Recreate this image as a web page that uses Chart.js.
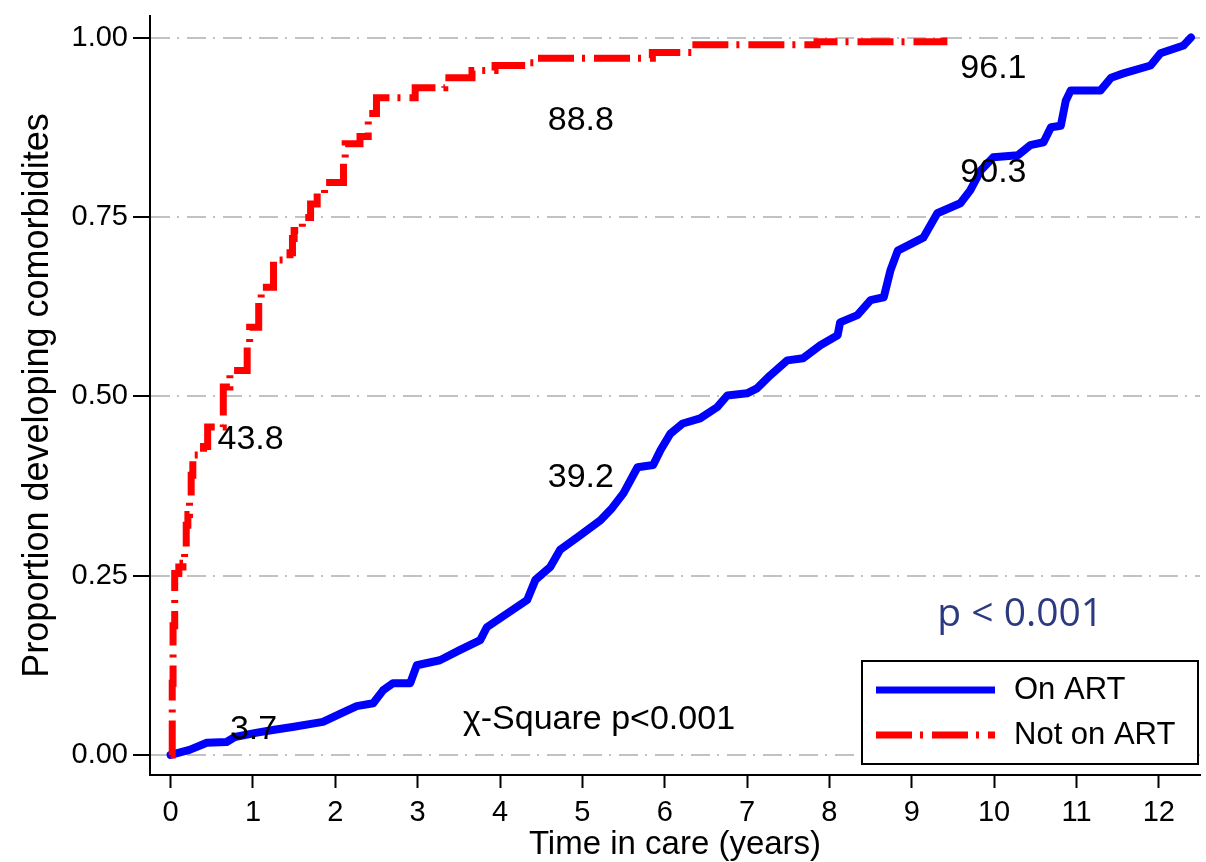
<!DOCTYPE html>
<html>
<head>
<meta charset="utf-8">
<script src="https://cdn.jsdelivr.net/npm/chart.js@4.4.1/dist/chart.umd.min.js"></script>
<style>
  body { margin: 0; background: #fff; }
  canvas { display: block; }
</style>
</head>
<body>
<canvas id="chart" width="1206" height="862"></canvas>
<script>
// Cumulative proportion developing comorbidities
var onArtYears = [0, 0.23, 0.44, 0.68, 0.78, 1.05, 1.26, 1.48, 1.85, 2.05, 2.26, 2.46, 2.58, 2.70, 2.91,
    2.99, 3.27, 3.51, 3.76, 3.84, 4.06, 4.33, 4.43, 4.61, 4.73, 4.97, 5.22, 5.36, 5.50, 5.67, 5.86,
    5.95, 6.07, 6.22, 6.43, 6.64, 6.76, 7.00, 7.12, 7.28, 7.49, 7.68, 7.89, 8.10, 8.13, 8.34, 8.50,
    8.66, 8.74, 8.83, 9.14, 9.31, 9.59, 9.71, 9.84, 9.99, 10.29, 10.44, 10.60, 10.69, 10.81, 10.87,
    10.93, 11.29, 11.42, 11.57, 11.90, 12.02, 12.30, 12.39];
var onArtProp = [0, 0.007, 0.017, 0.018, 0.025, 0.031, 0.035, 0.039, 0.046, 0.057, 0.068, 0.072, 0.09, 0.10, 0.10,
    0.125, 0.132, 0.146, 0.16, 0.178, 0.195, 0.216, 0.244, 0.262, 0.286, 0.306, 0.327, 0.344, 0.365, 0.401, 0.404,
    0.425, 0.448, 0.462, 0.469, 0.485, 0.501, 0.504, 0.511, 0.529, 0.55, 0.553, 0.571, 0.585, 0.603, 0.613, 0.634,
    0.638, 0.675, 0.703, 0.721, 0.755, 0.769, 0.787, 0.815, 0.833, 0.836, 0.85, 0.854, 0.875, 0.877, 0.912,
    0.926, 0.926, 0.944, 0.95, 0.961, 0.978, 0.989, 1.0];

var notOnArtYears = [0, 0.02, 0.03, 0.05, 0.10, 0.15, 0.17, 0.19, 0.21, 0.23, 0.25, 0.27, 0.40, 0.45,
    0.64, 0.72, 0.93, 0.96, 1.07, 1.10, 1.25, 1.45, 1.48, 1.50, 1.60, 1.70, 1.78, 1.87, 2.10, 2.12,
    2.30, 2.40, 2.50, 2.97, 3.33, 3.66, 3.94, 4.33, 4.46, 5.85, 6.33, 7.85, 9.39];
var notOnArtProp = [0, 0.10, 0.18, 0.253, 0.262, 0.267, 0.29, 0.32, 0.335, 0.36, 0.39, 0.418, 0.43, 0.457,
    0.513, 0.536, 0.568, 0.596, 0.63, 0.652, 0.69, 0.70, 0.72, 0.731, 0.749, 0.768, 0.783, 0.798, 0.824, 0.852,
    0.862, 0.894, 0.916, 0.93, 0.944, 0.954, 0.961, 0.965, 0.971, 0.979, 0.99, 0.994, 1.0];

var seriesNames = ["On ART", "Not on ART"];
var xTicks = [0, 1, 2, 3, 4, 5, 6, 7, 8, 9, 10, 11, 12];
var yTicks = [0, 0.25, 0.5, 0.75, 1];

// percentage labels written on the plot, with their place in data units
var noteTexts = ["43.8", "88.8", "96.1", "90.3", "39.2", "3.7", "\u03c7-Square p<0.001"];
var noteX = [0.57, 4.58, 9.59, 9.59, 4.58, 0.72, 3.55];
var noteY = [0.439, 0.884, 0.957, 0.812, 0.386, 0.035, 0.049];
var pValueText = "p < 0.001";

function toPoints(xs, ys) {
    return xs.map(function (x, i) { return { x: x, y: ys[i] }; });
}

var SANS = "'Liberation Sans', Arial, sans-serif";

var overlay = {
    id: "overlay",
    afterDraw: function (chart) {
        var ctx = chart.ctx;
        var xs = chart.scales.x, ys = chart.scales.y;
        var area = chart.chartArea;
        ctx.save();
        ctx.textAlign = "left";
        ctx.textBaseline = "middle";
        ctx.fillStyle = "#000";
        ctx.font = "34px " + SANS;
        noteTexts.forEach(function (t, i) {
            ctx.fillText(t, xs.getPixelForValue(noteX[i]), ys.getPixelForValue(noteY[i]));
        });

        ctx.font = "39px 'Open Sans', 'Noto Sans', sans-serif";
        ctx.fillStyle = "#2b3a80";
        ctx.fillText(pValueText, xs.getPixelForValue(9.31), ys.getPixelForValue(0.195));

        // legend box in the lower right corner
        var bw = 336, bh = 103;
        var bx = area.right - bw - 2, by = area.bottom - 11 - bh;
        ctx.fillStyle = "#fff";
        ctx.fillRect(bx, by, bw, bh);
        ctx.lineWidth = 2;
        ctx.strokeStyle = "#000";
        ctx.strokeRect(bx, by, bw, bh);
        ctx.font = "31px " + SANS;
        chart.data.datasets.forEach(function (ds, i) {
            var ly = by + 29 + i * 45;
            ctx.beginPath();
            ctx.lineWidth = 7;
            ctx.strokeStyle = ds.borderColor;
            ctx.setLineDash(ds.borderDash || []);
            ctx.lineCap = "butt";
            ctx.moveTo(bx + 14, ly);
            ctx.lineTo(bx + 133, ly);
            ctx.stroke();
            ctx.setLineDash([]);
            ctx.fillStyle = "#000";
            ctx.fillText(ds.label, bx + 152, ly);
        });
        ctx.restore();
    }
};

new Chart(document.getElementById("chart"), {
    type: "line",
    data: {
        datasets: [
            {
                label: seriesNames[0],
                data: toPoints(onArtYears, onArtProp),
                borderColor: "#0000ff",
                borderWidth: 8,
                borderJoinStyle: "round",
                borderCapStyle: "round",
                pointRadius: 0,
                tension: 0,
                order: 1
            },
            {
                label: seriesNames[1],
                data: toPoints(notOnArtYears, notOnArtProp),
                borderColor: "#ff0000",
                borderWidth: 7,
                borderDash: [36, 8, 3, 9],
                stepped: "before",
                pointRadius: 0,
                order: 0
            }
        ]
    },
    options: {
        responsive: false,
        animation: false,
        devicePixelRatio: 1,
        layout: { padding: { top: 16, right: 6, left: 0, bottom: 0 } },
        plugins: {
            legend: { display: false },
            tooltip: { enabled: false }
        },
        scales: {
            x: {
                type: "linear",
                min: -0.25,
                max: 12.5,
                afterBuildTicks: function (scale) {
                    scale.ticks = xTicks.map(function (v) { return { value: v }; });
                },
                afterFit: function (scale) { scale.height = 87; },
                grid: {
                    drawOnChartArea: false,
                    tickLength: 13,
                    tickColor: "#000",
                    tickWidth: 2
                },
                border: { color: "#000", width: 2 },
                ticks: {
                    padding: 8,
                    color: "#000",
                    font: { family: SANS, size: 29 },
                    maxRotation: 0,
                    callback: function (value) { return String(value); }
                },
                title: {
                    display: true,
                    text: "Time in care (years)",
                    color: "#000",
                    font: { family: SANS, size: 33, lineHeight: 1 },
                    padding: { top: 0, bottom: 1 }
                }
            },
            y: {
                min: -0.028,
                max: 1.03,
                afterBuildTicks: function (scale) {
                    scale.ticks = yTicks.map(function (v) { return { value: v }; });
                },
                afterFit: function (scale) { scale.width = 150; },
                grid: {
                    color: "#c2c2c2",
                    lineWidth: 2,
                    tickLength: 17,
                    tickColor: "#000",
                    tickWidth: 2,
                    tickBorderDash: []
                },
                border: { color: "#000", width: 2, dash: [19, 7, 2, 8] },
                ticks: {
                    padding: 5,
                    color: "#000",
                    font: { family: SANS, size: 29, lineHeight: 0.7 },
                    callback: function (value) { return Number(value).toFixed(2); }
                },
                title: {
                    display: true,
                    text: "Proportion developing comorbidites",
                    color: "#000",
                    font: { family: SANS, size: 36, lineHeight: 1.2 },
                    padding: { top: 16, bottom: 0 }
                }
            }
        }
    },
    plugins: [overlay]
});
</script>
</body>
</html>
